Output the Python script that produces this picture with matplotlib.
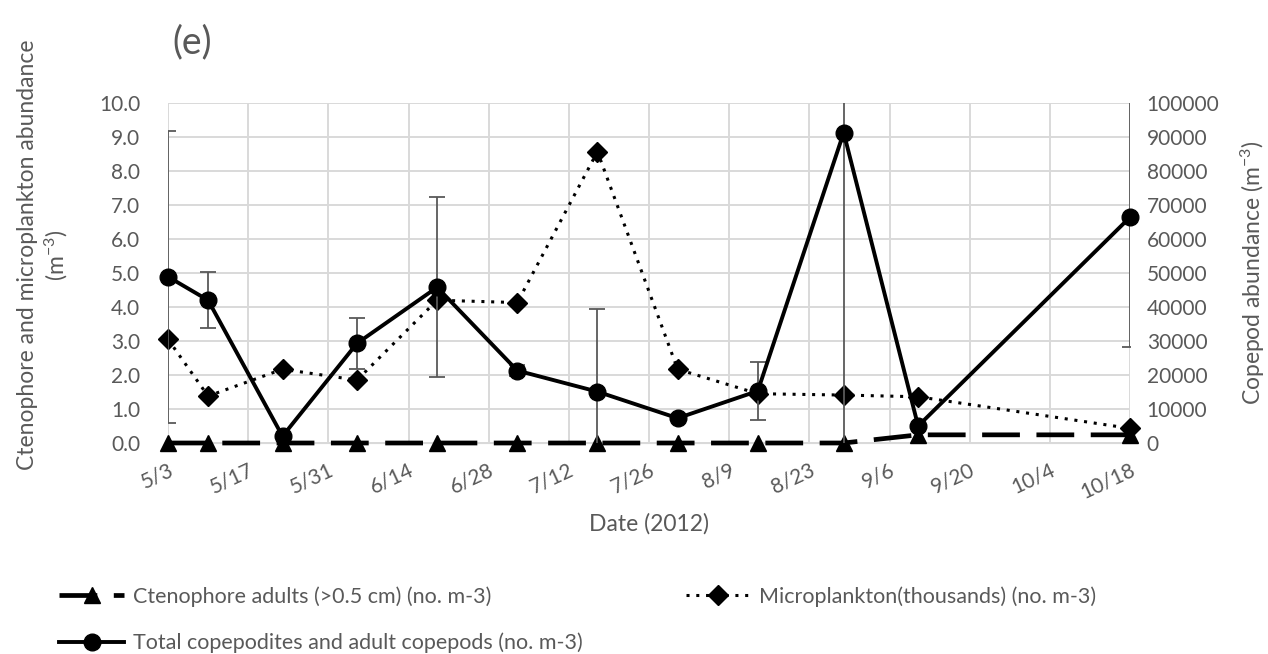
import matplotlib
matplotlib.use("Agg")
import matplotlib.pyplot as plt
from matplotlib.ticker import FuncFormatter
import numpy as np
import datetime as dt

plt.rcParams['font.family'] = ['Lato', 'DejaVu Sans']
plt.rcParams['mathtext.fontset'] = 'custom'
plt.rcParams['mathtext.rm'] = 'Lato'
plt.rcParams['mathtext.it'] = 'Lato:italic'

# sampling dates (2012)
dates = ['2012-05-03', '2012-05-10', '2012-05-23', '2012-06-05', '2012-06-19', '2012-07-03',
         '2012-07-17', '2012-07-31', '2012-08-14', '2012-08-29', '2012-09-11', '2012-10-18']
ctenophore = [0, 0, 0, 0, 0, 0, 0, 0, 0, 0, 0.24, 0.24]
microplankton = [3.05, 1.38, 2.17, 1.85, 4.2, 4.13, 8.57, 2.17, 1.45, 1.41, 1.36, 0.43]
copepods = [48900, 42000, 2000, 29300, 45800, 21300, 15100, 7300, 15300, 91300, 5000, 66400]
copepods_err = [43000, 8300, 0, 7400, 26500, 1500, 24200, 0, 8600, 95000, 0, 38100]

x = [dt.datetime.strptime(d, '%Y-%m-%d') for d in dates]
gray = '#595959'
grid_c = '#d9d9d9'

fig = plt.figure(figsize=(12.68, 6.54), dpi=100)
ax = fig.add_axes([168/1268, 1-443/654, (1130-168)/1268, (443-103)/654])
ax2 = ax.twinx()

ax.plot(x, ctenophore, color='black', lw=3.4, ls=(0, (8, 3.5)), marker='^', ms=11,
        label='Ctenophore adults (>0.5 cm) (no. m-3)', clip_on=False, zorder=3)
ax.plot(x, microplankton, color='black', lw=2.2, ls=(0, (1, 2.2)), marker='D', ms=10,
        label='Microplankton(thousands) (no. m-3)', clip_on=False, zorder=3)
ax2.errorbar(x, copepods, yerr=copepods_err, fmt='none', ecolor=gray, elinewidth=1.3,
             capsize=6, capthick=1.3, zorder=2)
ax2.plot(x, copepods, color='black', lw=2.8, marker='o', ms=12,
         label='Total copepodites and adult copepods (no. m-3)', clip_on=False, zorder=4)

start = dt.datetime(2012, 5, 3)
end = dt.datetime(2012, 10, 18)
ax.set_xlim(start, end)
ax.set_ylim(0, 10)
ax2.set_ylim(0, 100000)
ax.set_yticks(np.arange(0, 10.1, 1.0))
ax.yaxis.set_major_formatter(FuncFormatter(lambda v, p: f'{v:.1f}'))
ax2.set_yticks(np.arange(0, 100001, 10000))
ax2.yaxis.set_major_formatter(FuncFormatter(lambda v, p: f'{int(v)}'))

ticks = [start + dt.timedelta(days=14*i) for i in range(13)]
ax.set_xticks(ticks)
ax.set_xticklabels([f'{t.month}/{t.day}' for t in ticks], rotation=25, ha='right',
                   rotation_mode='anchor')

ax.grid(True, color=grid_c, lw=1.4)
ax.set_axisbelow(True)
for a in (ax, ax2):
    for s in a.spines.values():
        s.set_visible(False)
    a.tick_params(length=0, labelsize=15, colors=gray)
ax.spines['bottom'].set_visible(True)
ax.spines['bottom'].set_color(grid_c)
ax.tick_params(axis='x', pad=12)
ax.tick_params(axis='y', pad=20)
ax2.tick_params(axis='y', pad=12)

ax.set_xlabel('Date (2012)', fontsize=16.5, color=gray, labelpad=8)
ax.set_ylabel('Ctenophore and microplankton abundance\n(m$^{-3}$)', fontsize=16.5,
              color=gray)
ax.yaxis.set_label_coords(-0.102, 0.553)
ax2.set_ylabel('Copepod abundance (m$^{-3}$)', fontsize=16.5, color=gray, labelpad=14)
fig.text(172/1268, 1-42/654, '(e)', fontsize=27, color=gray, va='center', ha='left')

h1, l1 = ax.get_legend_handles_labels()
h2, l2 = ax2.get_legend_handles_labels()
handles = [h1[0], h2[0], h1[1]]
labels = [l1[0], l2[0], l1[1]]
fig.legend(handles, labels, loc='upper left', bbox_to_anchor=(40/1268, 1-567/654),
           ncol=2, frameon=False, fontsize=15.5, labelcolor=gray, handlelength=3.0,
           columnspacing=4.8, labelspacing=1.2, handletextpad=0.4)

fig.savefig('out.png', dpi=100)
